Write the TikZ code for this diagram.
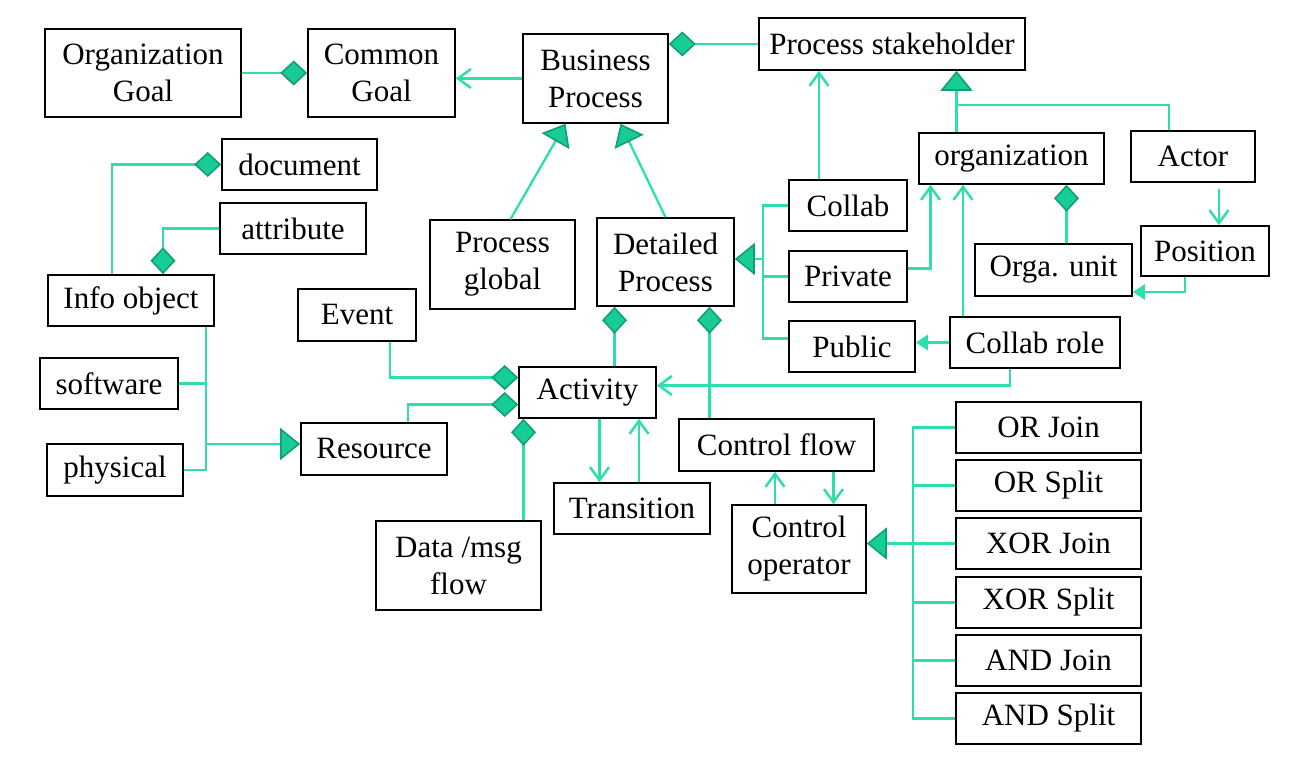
\documentclass[tikz,border=0pt]{standalone}
\usepackage{fontspec}
\setmainfont{Liberation Serif}
\usetikzlibrary{arrows.meta}
\definecolor{lc}{RGB}{46,222,172}
\definecolor{dfill}{RGB}{24,204,152}
\definecolor{ddraw}{RGB}{16,160,118}
\begin{document}
\begin{tikzpicture}[x=1pt,y=-1pt,
  box/.style={draw=black,line width=1.6pt,fill=white,inner sep=0pt,align=center,
    font=\fontsize{31}{37}\selectfont},
  cline/.style={draw=lc,line width=2.3pt},
  dia/.style={cline,-{Diamond[length=27pt,width=25pt,fill=dfill,color=ddraw,line width=1.6pt]}},
  inh/.style={cline,-{Triangle[length=20pt,width=32pt,fill=dfill,color=ddraw,line width=1.6pt]}},
  openarr/.style={cline,-{Straight Barb[length=13pt,width=19pt,line width=2.5pt]}},
  fillarr/.style={cline,-{Triangle[length=12pt,width=15pt]}}]
\useasboundingbox[fill=white] (0,0) rectangle (1296,759);
% boxes
\node[box,minimum width=196pt,minimum height=88pt] (orggoal) at (143,73) {Organization\\Goal};
\node[box,minimum width=147pt,minimum height=88pt] (common) at (381.5,73) {Common\\Goal};
\node[box,minimum width=145pt,minimum height=89pt] (bp) at (595.5,78.5) {Business\\Process};
\node[box,minimum width=266pt,minimum height=52pt] (stake) at (892,44) {Process stakeholder};
\node[box,minimum width=155pt,minimum height=51pt] (document) at (299.5,164.5) {document};
\node[box,minimum width=146pt,minimum height=51pt] (attribute) at (293,228.5) {attribute};
\node[box,minimum width=166pt,minimum height=51pt] (infoobj) at (131,300.5) {Info object};
\node[box,minimum width=145pt,minimum height=89pt] (pglobal) at (502.5,264.5) {Process\\global};
\node[box,minimum width=137pt,minimum height=88pt] (dproc) at (665.5,262) {Detailed\\Process};
\node[box,minimum width=118pt,minimum height=51pt] (collab) at (848,205.5) {Collab};
\node[box,minimum width=118pt,minimum height=51pt] (private) at (848,276.5) {Private};
\node[box,minimum width=126pt,minimum height=51pt] (public) at (852,346.5) {Public};
\node[box,minimum width=185pt,minimum height=51pt] (organization) at (1011.5,158.5) {organization};
\node[box,minimum width=124pt,minimum height=51pt] (actor) at (1193,156.5) {Actor};
\node[box,minimum width=128pt,minimum height=50pt] (position) at (1205,251) {Position};
\node[box,minimum width=157pt,minimum height=52pt] (orgaunit) at (1053.5,270) {Orga. unit};
\node[box,minimum width=170pt,minimum height=51pt] (collabrole) at (1035,342.5) {Collab role};
\node[box,minimum width=118pt,minimum height=52pt] (event) at (357,315) {Event};
\node[box,minimum width=138pt,minimum height=51pt] (software) at (109,383.5) {software};
\node[box,minimum width=136pt,minimum height=52pt] (physical) at (115,470) {physical};
\node[box,minimum width=146pt,minimum height=52pt] (resource) at (374,449) {Resource};
\node[box,minimum width=137pt,minimum height=51pt] (activity) at (587.5,392.5) {Activity};
\node[box,minimum width=195pt,minimum height=52pt] (controlflow) at (776.5,445) {Control flow};
\node[box,minimum width=156pt,minimum height=51pt] (transition) at (632,508.5) {Transition};
\node[box,minimum width=165pt,minimum height=89pt] (dataflow) at (458.5,565.5) {Data /msg\\flow};
\node[box,minimum width=134pt,minimum height=88pt] (controlop) at (799,549) {Control\\operator};
\node[box,minimum width=185pt,minimum height=51pt] (orj) at (1048.5,427.5) {OR Join};
\node[box,minimum width=185pt,minimum height=51pt] (ors) at (1048.5,485.5) {OR Split};
\node[box,minimum width=185pt,minimum height=51pt] (xorj) at (1048.5,543.5) {XOR Join};
\node[box,minimum width=185pt,minimum height=51pt] (xors) at (1048.5,602.5) {XOR Split};
\node[box,minimum width=185pt,minimum height=51pt] (andj) at (1048.5,660.5) {AND Join};
\node[box,minimum width=185pt,minimum height=51pt] (ands) at (1048.5,718.5) {AND Split};
% helper coordinates
\coordinate (j1) at (956,105);
\coordinate (busx) at (763,259);
\coordinate (obus) at (913,547);
\coordinate (rbus) at (206,444);
\coordinate (pubw) at ([yshift=8pt]public.west);
% connectors
\draw[dia] (orggoal.east) -- (common.west);
\draw[openarr] (bp.west) -- (bp.west -| common.east);
\draw[dia] (stake.west) -- (stake.west -| bp.east);
\draw[inh] ([xshift=8pt]pglobal.north) -- ([xshift=-30pt]bp.south);
\draw[inh] (dproc.north) -- ([xshift=25pt]bp.south);
\draw[inh] ([xshift=-55pt]organization.north) -- ([xshift=-55pt]organization.north |- stake.south);
\draw[cline] (j1) -| ([xshift=-24pt]actor.north);
\draw[openarr] ([xshift=-29pt]collab.north) -- ([xshift=-29pt]collab.north |- stake.south);
\draw[cline] (collab.west) -- (collab.west -| busx) -- (busx |- pubw) -- (pubw);
\draw[cline] (private.west) -- (private.west -| busx);
\draw[inh] (busx) -- (busx -| dproc.east);
\draw[openarr] ([yshift=8pt]private.east) -| ([xshift=-81pt]organization.south);
\draw[openarr] ([xshift=-72pt]collabrole.north) -- ([xshift=-72pt]collabrole.north |- organization.south);
\draw[dia] ([xshift=13pt]orgaunit.north) -- ([xshift=13pt]orgaunit.north |- organization.south);
\draw[openarr] ([xshift=26pt,yshift=-6pt]actor.south) -- ([xshift=26pt]actor.south |- position.north);
\draw[fillarr] ([xshift=-20pt]position.south) |- ([yshift=-22pt]orgaunit.east);
\draw[fillarr] (collabrole.west) -- (collabrole.west -| public.east);
\draw[openarr] ([xshift=-25pt]collabrole.south) |- ([yshift=7pt]activity.east);
\draw[dia] ([xshift=33pt]event.south) |- ([yshift=15pt]activity.west);
\draw[dia] ([xshift=34pt]resource.north) |- ([yshift=-12pt]activity.west);
\draw[dia] ([xshift=65pt]dataflow.north) -- ([xshift=65pt]dataflow.north |- activity.south);
\draw[dia] ([xshift=27pt]activity.north) -- ([xshift=27pt]activity.north |- dproc.south);
\draw[dia] ([xshift=-67pt]controlflow.north) -- ([xshift=-67pt]controlflow.north |- dproc.south);
\draw[openarr] ([xshift=12pt]activity.south) -- ([xshift=12pt]activity.south |- transition.north);
\draw[openarr] ([xshift=7pt]transition.north) -- ([xshift=7pt]transition.north |- activity.south);
\draw[openarr] ([xshift=-24pt]controlop.north) -- ([xshift=-24pt]controlop.north |- controlflow.south);
\draw[openarr] ([xshift=57pt]controlflow.south) -- ([xshift=57pt]controlflow.south |- controlop.north);
\draw[cline] (orj.west) -- (orj.west -| obus) -- (ands.west -| obus) -- (ands.west);
\draw[cline] (ors.west) -- (ors.west -| obus);
\draw[cline] (xorj.west) -- (xorj.west -| obus);
\draw[cline] (xors.west) -- (xors.west -| obus);
\draw[cline] (andj.west) -- (andj.west -| obus);
\draw[inh] (xorj.west -| obus) -- (xorj.west -| controlop.east);
\draw[dia] ([xshift=-19pt]infoobj.north) |- (document.west);
\draw[dia] (attribute.west) -| ([xshift=32pt]infoobj.north);
\draw[cline] ([xshift=75pt]infoobj.south) |- (physical.east);
\draw[cline] (software.east) -- (software.east -| rbus);
\draw[inh] (rbus) -- (rbus -| resource.west);
\end{tikzpicture}
\end{document}
